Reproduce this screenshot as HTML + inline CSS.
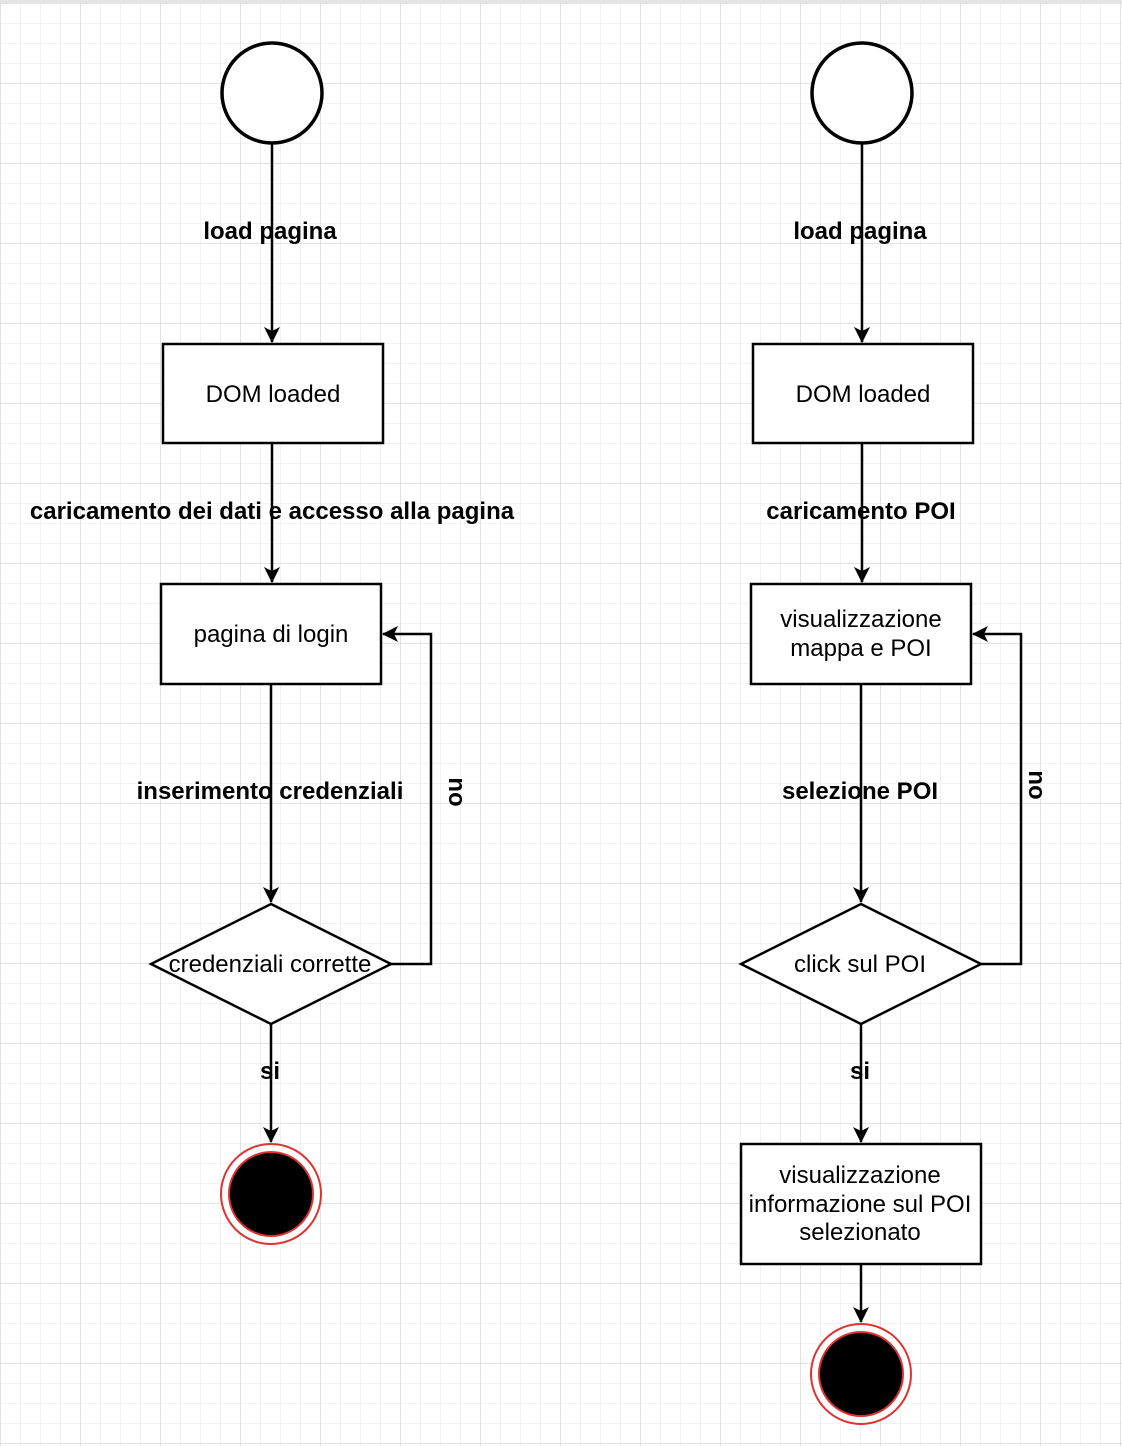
<!DOCTYPE html>
<html><head><meta charset="utf-8"><style>
html,body{margin:0;padding:0;background:#fff}
svg{display:block}
text{font-family:"Liberation Sans",Arial,sans-serif;font-size:24px;fill:#000}
.b{font-weight:bold}
</style></head><body>
<svg width="1122" height="1446" viewBox="0 0 1122 1446" xmlns="http://www.w3.org/2000/svg">
<defs>
<pattern id="minor" x="0" y="3" width="20" height="20" patternUnits="userSpaceOnUse">
<path d="M0 0H20M0 0V20" stroke="#efefef" stroke-width="1.5" fill="none"/>
</pattern>
<pattern id="major" x="0" y="3" width="80" height="80" patternUnits="userSpaceOnUse">
<path d="M0 0H80M0 0V80" stroke="#cfcfcf" stroke-width="1" fill="none"/>
</pattern>
<marker id="a" viewBox="0 0 16 16" refX="15" refY="8" markerWidth="16" markerHeight="16" markerUnits="userSpaceOnUse" orient="auto">
<path d="M0 0L16 8L0 16L4 8Z" fill="#000"/>
</marker>
</defs>
<rect width="1122" height="1446" fill="#fff"/>
<rect width="1122" height="1446" fill="url(#minor)"/>
<rect width="1122" height="1446" fill="url(#major)"/>
<rect x="0" y="0" width="1122" height="3" fill="#e4e4e4"/>
<g stroke="#000" stroke-width="2.5" fill="none">
<circle cx="272" cy="93" r="50" stroke-width="3.5" fill="#fff"/>
<line x1="272" y1="143" x2="272" y2="342" marker-end="url(#a)"/>
<rect x="163" y="344" width="220" height="99" fill="#fff"/>
<line x1="272" y1="443" x2="272" y2="582" marker-end="url(#a)"/>
<rect x="161" y="584" width="220" height="100" fill="#fff"/>
<line x1="271" y1="684" x2="271" y2="902" marker-end="url(#a)"/>
<polygon points="271,904 391,964 271,1024 151,964" fill="#fff"/>
<polyline points="391,964 431,964 431,634 383,634" marker-end="url(#a)"/>
<line x1="271" y1="1024" x2="271" y2="1142" marker-end="url(#a)"/>
<circle cx="271" cy="1194" r="50" stroke="#d33" stroke-width="2" fill="#fff"/>
<circle cx="271" cy="1194" r="42" stroke="#d33" stroke-width="2" fill="#000"/>
<circle cx="862" cy="93" r="50" stroke-width="3.5" fill="#fff"/>
<line x1="862" y1="143" x2="862" y2="342" marker-end="url(#a)"/>
<rect x="753" y="344" width="220" height="99" fill="#fff"/>
<line x1="862" y1="443" x2="862" y2="582" marker-end="url(#a)"/>
<rect x="751" y="584" width="220" height="100" fill="#fff"/>
<line x1="861" y1="684" x2="861" y2="902" marker-end="url(#a)"/>
<polygon points="861,904 981,964 861,1024 741,964" fill="#fff"/>
<polyline points="981,964 1021,964 1021,634 973,634" marker-end="url(#a)"/>
<line x1="861" y1="1024" x2="861" y2="1142" marker-end="url(#a)"/>
<rect x="741" y="1144" width="240" height="120" fill="#fff"/>
<line x1="861" y1="1264" x2="861" y2="1322" marker-end="url(#a)"/>
<circle cx="861" cy="1374" r="50" stroke="#d33" stroke-width="2" fill="#fff"/>
<circle cx="861" cy="1374" r="42" stroke="#d33" stroke-width="2" fill="#000"/>
</g>
<g text-anchor="middle">
<text x="270" y="239" class="b">load pagina</text>
<text x="273" y="402">DOM loaded</text>
<text x="272" y="519" class="b">caricamento dei dati e accesso alla pagina</text>
<text x="271" y="642">pagina di login</text>
<text x="270" y="799" class="b">inserimento credenziali</text>
<text x="270" y="972">credenziali corrette</text>
<text x="270" y="1079" class="b">si</text>
<text x="0" y="0" class="b" transform="translate(449,792) rotate(90)">no</text>
<text x="860" y="239" class="b">load pagina</text>
<text x="863" y="402">DOM loaded</text>
<text x="861" y="519" class="b">caricamento POI</text>
<text x="861" y="627">visualizzazione</text>
<text x="861" y="656">mappa e POI</text>
<text x="860" y="799" class="b">selezione POI</text>
<text x="860" y="972">click sul POI</text>
<text x="860" y="1079" class="b">si</text>
<text x="0" y="0" class="b" transform="translate(1029,785) rotate(90)">no</text>
<text x="860" y="1183">visualizzazione</text>
<text x="860" y="1212">informazione sul POI</text>
<text x="860" y="1240">selezionato</text>
</g>
</svg>
</body></html>
